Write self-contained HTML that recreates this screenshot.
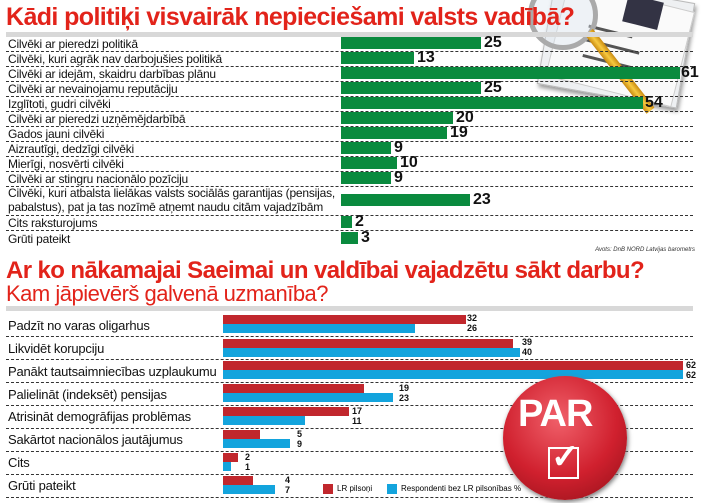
<!DOCTYPE html>
<html><head><meta charset="utf-8"><style>
body{margin:0;width:703px;height:503px;background:#fff;overflow:hidden;position:relative;font-family:"Liberation Sans",sans-serif}
.a{position:absolute}
.t{font-weight:bold;color:#e2231a;font-size:25px;letter-spacing:-0.6px;white-space:nowrap}
.l{font-size:12px;color:#111;white-space:nowrap;left:8px;letter-spacing:-0.2px}
.g{background:#0a8a3e;height:12px}
.n{font-weight:bold;font-size:16px;color:#111}
.d{height:0;border-top:1px dashed #333;left:6px}
.r{background:#c1272d;height:9px}
.b{background:#13a4dd;height:9px}
.s{font-weight:bold;font-size:9px;color:#111}
</style></head><body>
<!-- paper illustration -->
<div class="a" style="left:545px;top:-10px;width:140px;height:105px;background:#eef0f2;border:1px solid #bbb;transform:rotate(10deg);box-shadow:2px 3px 4px #999"></div>
<div class="a" style="left:555px;top:-5px;width:128px;height:96px;background:#fafafa;border:1px solid #ccc;transform:rotate(14deg)"></div>
<div class="a" style="left:625px;top:-2px;width:36px;height:28px;background:#334;transform:rotate(14deg)"></div>
<div class="a" style="left:588px;top:30px;width:45px;height:3px;background:#555;transform:rotate(14deg)"></div>
<div class="a" style="left:585px;top:45px;width:55px;height:3px;background:#555;transform:rotate(14deg)"></div>
<div class="a" style="left:582px;top:60px;width:50px;height:3px;background:#555;transform:rotate(14deg)"></div>
<div class="a" style="left:528px;top:-20px;width:60px;height:60px;border:5px solid #aaa;border-radius:50%;background:rgba(220,230,240,.4)"></div>
<div class="a" style="left:585px;top:35px;width:10px;height:100px;background:linear-gradient(90deg,#c98a10,#f7c940,#c98a10);transform:rotate(-38deg);transform-origin:top left"></div>

<div class="a t" style="left:6px;top:3px">Kādi politiķi visvairāk nepieciešami valsts vadībā?</div>
<div class="a" style="left:6px;top:32px;width:687px;height:5px;background:#d8d8d8"></div>

<div class="a l" style="top:37px">Cilvēki ar pieredzi politikā</div>
<div class="a g" style="left:341px;top:37px;width:140px"></div><div class="a n" style="left:484px;top:34px">25</div>
<div class="a d" style="top:51px;width:687px"></div>
<div class="a l" style="top:52px">Cilvēki, kuri agrāk nav darbojušies politikā</div>
<div class="a g" style="left:341px;top:52px;width:73px"></div><div class="a n" style="left:417px;top:49px">13</div>
<div class="a d" style="top:66px;width:687px"></div>
<div class="a l" style="top:67px">Cilvēki ar idejām, skaidru darbības plānu</div>
<div class="a g" style="left:341px;top:67px;width:339px"></div><div class="a n" style="left:681px;top:64px">61</div>
<div class="a d" style="top:81px;width:687px"></div>
<div class="a l" style="top:82px">Cilvēki ar nevainojamu reputāciju</div>
<div class="a g" style="left:341px;top:82px;width:140px"></div><div class="a n" style="left:484px;top:79px">25</div>
<div class="a d" style="top:96px;width:687px"></div>
<div class="a l" style="top:97px">Izglītoti, gudri cilvēki</div>
<div class="a g" style="left:341px;top:97px;width:302px"></div><div class="a n" style="left:645px;top:94px">54</div>
<div class="a d" style="top:111px;width:687px"></div>
<div class="a l" style="top:112px">Cilvēki ar pieredzi uzņēmējdarbībā</div>
<div class="a g" style="left:341px;top:112px;width:112px"></div><div class="a n" style="left:456px;top:109px">20</div>
<div class="a d" style="top:126px;width:687px"></div>
<div class="a l" style="top:127px">Gados jauni cilvēki</div>
<div class="a g" style="left:341px;top:127px;width:106px"></div><div class="a n" style="left:450px;top:124px">19</div>
<div class="a d" style="top:141px;width:687px"></div>
<div class="a l" style="top:142px">Aizrautīgi, dedzīgi cilvēki</div>
<div class="a g" style="left:341px;top:142px;width:50px"></div><div class="a n" style="left:394px;top:139px">9</div>
<div class="a d" style="top:156px;width:687px"></div>
<div class="a l" style="top:157px">Mierīgi, nosvērti cilvēki</div>
<div class="a g" style="left:341px;top:157px;width:56px"></div><div class="a n" style="left:400px;top:154px">10</div>
<div class="a d" style="top:171px;width:687px"></div>
<div class="a l" style="top:172px">Cilvēki ar stingru nacionālo pozīciju</div>
<div class="a g" style="left:341px;top:172px;width:50px"></div><div class="a n" style="left:394px;top:169px">9</div>
<div class="a d" style="top:186px;width:687px"></div>
<div class="a l" style="top:186px;line-height:14px">Cilvēki, kuri atbalsta lielākas valsts sociālās garantijas (pensijas,<br>pabalstus), pat ja tas nozīmē atņemt naudu citām vajadzībām</div>
<div class="a g" style="left:341px;top:194px;width:129px"></div><div class="a n" style="left:473px;top:191px">23</div>
<div class="a d" style="top:215px;width:687px"></div>
<div class="a l" style="top:216px">Cits raksturojums</div>
<div class="a g" style="left:341px;top:216px;width:11px"></div><div class="a n" style="left:355px;top:213px">2</div>
<div class="a d" style="top:230px;width:687px"></div>
<div class="a l" style="top:232px">Grūti pateikt</div>
<div class="a g" style="left:341px;top:232px;width:17px"></div><div class="a n" style="left:361px;top:229px">3</div>
<div class="a" style="right:8px;top:247px;font-size:6px;font-style:italic;color:#333">Avots: DnB NORD Latvijas barometrs</div>

<div class="a t" style="left:6px;top:257px;font-size:24px">Ar ko nākamajai Saeimai un valdībai vajadzētu sākt darbu?</div>
<div class="a" style="left:6px;top:281px;font-size:22px;color:#e2231a;white-space:nowrap;letter-spacing:-0.5px">Kam jāpievērš galvenā uzmanība?</div>
<div class="a" style="left:6px;top:306px;width:687px;height:5px;background:#d8d8d8"></div>

<!-- bottom rows -->
<div class="a l" style="top:318px;font-size:13px">Padzīt no varas oligarhus</div>
<div class="a r" style="left:223px;top:315px;width:243px"></div><div class="a b" style="left:223px;top:324px;width:192px"></div>
<div class="a s" style="left:464px;top:313px;left:465px"></div>
<div class="a s" style="left:467px;top:313px">32</div><div class="a s" style="left:467px;top:323px">26</div>
<div class="a d" style="top:336px;width:687px"></div>

<div class="a l" style="top:341px;font-size:13px">Likvidēt korupciju</div>
<div class="a r" style="left:223px;top:339px;width:290px"></div><div class="a b" style="left:223px;top:348px;width:297px"></div>
<div class="a s" style="left:522px;top:337px">39</div><div class="a s" style="left:522px;top:347px">40</div>
<div class="a d" style="top:359px;width:687px"></div>

<div class="a l" style="top:364px;font-size:13px">Panākt tautsaimniecības uzplaukumu</div>
<div class="a r" style="left:223px;top:361px;width:460px"></div><div class="a b" style="left:223px;top:370px;width:460px"></div>
<div class="a s" style="left:686px;top:360px">62</div><div class="a s" style="left:686px;top:370px">62</div>
<div class="a d" style="top:382px;width:687px"></div>

<div class="a l" style="top:387px;font-size:13px">Palielināt (indeksēt) pensijas</div>
<div class="a r" style="left:223px;top:384px;width:141px"></div><div class="a b" style="left:223px;top:393px;width:170px"></div>
<div class="a s" style="left:399px;top:383px">19</div><div class="a s" style="left:399px;top:393px">23</div>
<div class="a d" style="top:405px;width:687px"></div>

<div class="a l" style="top:409px;font-size:13px">Atrisināt demogrāfijas problēmas</div>
<div class="a r" style="left:223px;top:407px;width:126px"></div><div class="a b" style="left:223px;top:416px;width:82px"></div>
<div class="a s" style="left:352px;top:406px">17</div><div class="a s" style="left:352px;top:416px">11</div>
<div class="a d" style="top:428px;width:687px"></div>

<div class="a l" style="top:432px;font-size:13px">Sakārtot nacionālos jautājumus</div>
<div class="a r" style="left:223px;top:430px;width:37px"></div><div class="a b" style="left:223px;top:439px;width:67px"></div>
<div class="a s" style="left:297px;top:429px">5</div><div class="a s" style="left:297px;top:439px">9</div>
<div class="a d" style="top:451px;width:687px"></div>

<div class="a l" style="top:455px;font-size:13px">Cits</div>
<div class="a r" style="left:223px;top:453px;width:15px"></div><div class="a b" style="left:223px;top:462px;width:8px"></div>
<div class="a s" style="left:245px;top:452px">2</div><div class="a s" style="left:245px;top:462px">1</div>
<div class="a d" style="top:474px;width:687px"></div>

<div class="a l" style="top:478px;font-size:13px">Grūti pateikt</div>
<div class="a r" style="left:223px;top:476px;width:30px"></div><div class="a b" style="left:223px;top:485px;width:52px"></div>
<div class="a s" style="left:285px;top:475px">4</div><div class="a s" style="left:285px;top:485px">7</div>
<div class="a d" style="top:497px;width:687px"></div>

<div class="a" style="left:323px;top:484px;width:10px;height:10px;background:#c1272d"></div>
<div class="a" style="left:337px;top:484px;font-size:8px">LR pilsoņi</div>
<div class="a" style="left:387px;top:484px;width:10px;height:10px;background:#13a4dd"></div>
<div class="a" style="left:401px;top:484px;font-size:8px">Respondenti bez LR pilsonības %</div>

<!-- PAR badge -->
<div class="a" style="left:503px;top:376px;width:124px;height:124px;border-radius:50%;background:radial-gradient(circle at 45% 35%,#f0606a,#d0202e 55%,#8e1018);box-shadow:1px 2px 5px #777"></div>
<div class="a" style="left:518px;top:393px;font-weight:bold;font-size:38px;color:#fff;letter-spacing:-1px">PAR</div>
<div class="a" style="left:548px;top:447px;width:27px;height:28px;border:2px solid #fff"></div>
<div class="a" style="left:551px;top:437px;font-size:34px;color:#fff;font-weight:bold">✓</div>
</body></html>
